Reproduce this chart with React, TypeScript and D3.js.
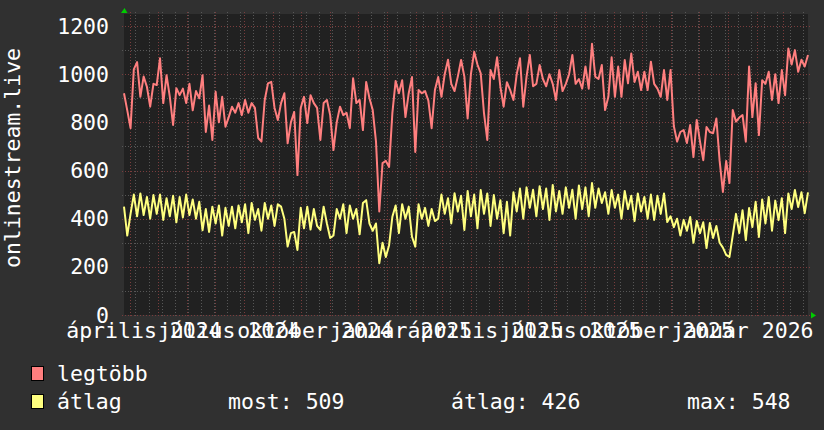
import React from "react";
import * as d3 from "d3";

const W = 824;
const H = 430;
const PLOT = { left: 124, right: 808, top: 14, bottom: 315 };
const FONT = "'DejaVu Sans Mono', monospace";
const FS = 21.5;

// time domain of the graph and sample spacing (hours)
const START = new Date(2024, 2, 25, 17);
const END = new Date(2026, 2, 27, 5);
const STEP_HOURS = 84;

// "legtöbb" (max) series
const maxValues = [
  921, 850, 776, 1020, 1050, 906, 990, 948, 865, 960,
  955, 1066, 880, 996, 906, 789, 942, 913, 940, 880,
  960, 850, 930, 900, 996, 760, 870, 727, 927, 800,
  906, 782, 822, 865, 840, 880, 830, 893, 840, 880,
  860, 735, 720, 893, 962, 968, 860, 810, 880, 921,
  713, 800, 843, 581, 860, 906, 797, 913, 880, 860,
  727, 880, 893, 830, 685, 800, 865, 830, 840, 776,
  983, 880, 893, 768, 968, 900, 851, 720, 430, 631,
  640, 615, 838, 972, 921, 975, 822, 921, 988, 677,
  934, 921, 930, 890, 776, 934, 988, 906, 1000, 1060,
  960, 930, 990, 1059, 990, 816, 1000, 1093, 1040, 1004,
  838, 727, 1017, 980, 1070, 948, 865, 967, 934, 893,
  1000, 1066, 865, 990, 1080, 950, 960, 1038, 980, 950,
  1000, 960, 893, 1017, 930, 960, 1000, 1080, 960, 980,
  940, 1032, 940, 1126, 990, 980, 1038, 851, 906, 1070,
  906, 1032, 906, 1059, 962, 1086, 968, 1010, 934, 1010,
  934, 1052, 960, 940, 906, 1017, 893, 1017, 785, 720,
  760, 768, 714, 789, 656, 810, 720, 643, 781, 760,
  755, 816, 640, 511, 640, 548, 851, 803, 820, 830,
  720, 1032, 822, 962, 747, 975, 960, 1010, 893, 1000,
  880, 1017, 913, 1107, 1040, 1100, 1010, 1060, 1032, 1080,
];

// "átlag" (average) series
const avgValues = [
  450, 330, 420, 500, 410, 505, 415, 490, 400, 498,
  420, 500, 395, 485, 410, 495, 385, 490, 405, 500,
  415, 480, 400, 470, 352, 440, 345, 450, 380, 455,
  330, 445, 370, 450, 360, 455, 385, 460, 340, 465,
  395, 440, 350, 465, 400, 455, 370, 460, 450, 400,
  284, 340, 345, 270, 445, 360, 450, 355, 440, 370,
  353, 450, 380, 320, 330, 440, 400, 460, 340, 455,
  400, 440, 335, 465, 477, 380, 350, 380, 215, 300,
  241, 290, 408, 455, 340, 460, 400, 450, 325, 284,
  460, 400, 445, 370, 440, 390, 400, 500, 420, 485,
  380, 506, 430, 495, 353, 515, 410, 500, 360, 519,
  420, 505, 370, 498, 400, 477, 340, 470, 330, 510,
  430, 525, 400, 530, 445, 520, 410, 535, 440, 525,
  395, 540, 430, 515, 420, 530, 445, 520, 400, 538,
  440, 530, 410, 548, 445, 525, 465, 510, 420, 519,
  445, 500, 400, 515, 440, 495, 390, 505, 430, 490,
  400, 500, 395, 495, 420, 505, 386, 410, 365, 400,
  330, 395, 350, 407, 300, 390, 340, 385, 278, 382,
  320, 370, 300, 280, 250, 241, 330, 420, 340, 435,
  311, 444, 365, 470, 324, 480, 380, 490, 350, 475,
  394, 485, 340, 505, 440, 519, 448, 510, 423, 509,
];

const yMajorTicks = [0, 200, 400, 600, 800, 1000, 1200];
const yMinorTicks = [100, 300, 500, 700, 900, 1100];

const xLabelDates = [
  new Date(2024, 3, 1), new Date(2024, 6, 1), new Date(2024, 9, 1), new Date(2025, 0, 1),
  new Date(2025, 3, 1), new Date(2025, 6, 1), new Date(2025, 9, 1), new Date(2026, 0, 1),
];
const xLabels = [
  "április 2024", "július 2024", "október 2024", "január 2025",
  "április 2025", "július 2025", "október 2025", "január 2026",
];

const yTitle = "onlinestream.live";
const legendNames = ["legtöbb", "átlag"];
const statTexts = ["most: 509", "átlag: 426", "max: 548"];

const COLORS = {
  back: "#303030",
  canvas: "#212121",
  minor: "#575757",
  major: "#7a3d3d",
  max: "#ff7f7f",
  avg: "#ffff7f",
  arrow: "#00cc00",
  text: "#ffffff",
};

export default function App() {
  const x = d3.scaleTime().domain([START, END]).range([PLOT.left, PLOT.right]);
  const y = d3.scaleLinear().domain([0, 1250]).range([PLOT.bottom, PLOT.top]);

  const dateAt = (i: number) => d3.timeHour.offset(START, i * STEP_HOURS);
  const line = d3
    .line<number>()
    .x((_, i) => x(dateAt(i)))
    .y((v) => y(v));

  const months = d3.timeMonth.range(d3.timeMonth.ceil(START), END);
  const minorDates: Date[] = [];
  for (let d = new Date(2024, 3, 7); d < END; d = d3.timeDay.offset(d, 14)) minorDates.push(d);

  const vx = (d: Date) => Math.round(x(d)) + 0.5;
  const hy = (v: number) => Math.round(y(v)) + 0.5;

  return (
    <svg
      width={W}
      height={H}
      style={{ position: "fixed", left: 0, top: 0, display: "block" }}
      fontFamily={FONT}
    >
      <rect x={0} y={0} width={W} height={H} fill={COLORS.back} />
      <rect
        x={PLOT.left}
        y={PLOT.top}
        width={PLOT.right - PLOT.left}
        height={PLOT.bottom - PLOT.top}
        fill={COLORS.canvas}
      />
      {/* minor grid */}
      <g stroke={COLORS.minor} strokeWidth={1} strokeDasharray="1,2" shapeRendering="crispEdges">
        {yMinorTicks.map((v) => (
          <line key={"hm" + v} x1={PLOT.left - 2} x2={PLOT.right + 2} y1={hy(v)} y2={hy(v)} />
        ))}
        {minorDates.map((d, i) => (
          <line key={"vm" + i} x1={vx(d)} x2={vx(d)} y1={PLOT.top - 2} y2={PLOT.bottom + 2} />
        ))}
      </g>
      {/* major grid */}
      <g stroke={COLORS.major} strokeWidth={1} strokeDasharray="1,2" shapeRendering="crispEdges">
        {yMajorTicks.map((v) => (
          <line key={"hM" + v} x1={PLOT.left - 2} x2={PLOT.right + 2} y1={hy(v)} y2={hy(v)} />
        ))}
        {months.map((d, i) => (
          <line key={"vM" + i} x1={vx(d)} x2={vx(d)} y1={PLOT.top - 2} y2={PLOT.bottom + 2} />
        ))}
      </g>
      {/* series */}
      <path d={line(maxValues) || ""} fill="none" stroke={COLORS.max} strokeWidth={2} strokeLinejoin="round" />
      <path d={line(avgValues) || ""} fill="none" stroke={COLORS.avg} strokeWidth={2} strokeLinejoin="round" />
      {/* arrows */}
      <path
        d={`M${PLOT.left - 3},${PLOT.top - 1} L${PLOT.left + 3.5},${PLOT.top - 1} L${PLOT.left + 0.5},${PLOT.top - 6} Z`}
        fill={COLORS.arrow}
      />
      <path
        d={`M${PLOT.right + 3},${PLOT.bottom - 3} L${PLOT.right + 3},${PLOT.bottom + 3.5} L${PLOT.right + 8},${PLOT.bottom + 0.5} Z`}
        fill={COLORS.arrow}
      />
      {/* y labels */}
      <g fill={COLORS.text} fontSize={FS} textAnchor="end">
        {yMajorTicks.map((v) => (
          <text key={"yl" + v} x={109} y={y(v) + 7.5}>
            {v}
          </text>
        ))}
      </g>
      {/* x labels */}
      <g fill={COLORS.text} fontSize={FS} textAnchor="middle">
        {xLabelDates.map((d, i) => (
          <text key={"xl" + i} x={x(d3.timeDay.offset(d, 15))} y={338}>
            {xLabels[i]}
          </text>
        ))}
      </g>
      {/* y title */}
      <text
        transform={`translate(20,158) rotate(-90)`}
        fill={COLORS.text}
        fontSize={FS}
        textAnchor="middle"
      >
        {yTitle}
      </text>
      {/* legend */}
      {legendNames.map((n, i) => (
        <g key={"lg" + i}>
          <rect
            x={31.5}
            y={366.5 + i * 28}
            width={12}
            height={14}
            fill={i === 0 ? COLORS.max : COLORS.avg}
            stroke="#000"
            strokeWidth={1}
          />
          <text x={57} y={381 + i * 28} fill={COLORS.text} fontSize={FS}>
            {n}
          </text>
        </g>
      ))}
      {statTexts.map((t, i) => (
        <text key={"st" + i} x={[228, 451, 687][i]} y={409} fill={COLORS.text} fontSize={FS}>
          {t}
        </text>
      ))}
    </svg>
  );
}
